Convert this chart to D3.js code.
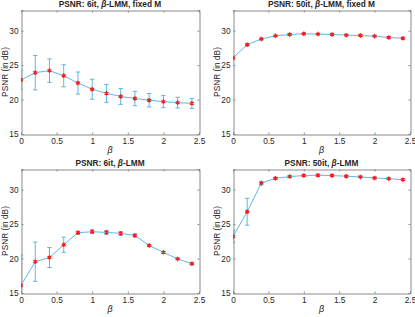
<!DOCTYPE html>
<html>
<head>
<meta charset="utf-8">
<title>PSNR vs beta</title>
<script src="https://cdn.jsdelivr.net/npm/d3@7"></script>
<style>
  body { margin: 0; background: #fff; }
  svg text { font-family: "Liberation Sans", Arial, sans-serif; fill: #262626; }
</style>
</head>
<body>
<svg id="svg"></svg>
<script>
var width = 415, height = 317;

// beta values shared by all four plots
var beta = [0, 0.2, 0.4, 0.6, 0.8, 1.0, 1.2, 1.4, 1.6, 1.8, 2.0, 2.2, 2.4];

// PSNR mean and error (half height of bar) per plot
var mean6Fixed  = [22.85, 23.9, 24.2, 23.45, 22.4, 21.5, 20.9, 20.45, 20.15, 19.9, 19.7, 19.55, 19.45];
var err6Fixed   = [1.35, 2.5, 1.7, 1.6, 1.6, 1.45, 1.3, 1.15, 1.05, 0.98, 0.88, 0.78, 0.72];
var mean50Fixed = [26.05, 27.95, 28.8, 29.25, 29.45, 29.55, 29.5, 29.45, 29.35, 29.3, 29.2, 29.0, 28.9];
var err50Fixed  = [0.1, 0.12, 0.12, 0.1, 0.1, 0.1, 0.1, 0.1, 0.1, 0.1, 0.1, 0.1, 0.1];
var mean6       = [16.1, 19.55, 20.15, 22.0, 23.75, 23.9, 23.8, 23.65, 23.35, 21.9, 20.9, 19.95, 19.25];
var err6        = [4.4, 2.85, 1.45, 1.1, 0.22, 0.28, 0.28, 0.28, 0.22, 0.1, 0.1, 0.1, 0.1];
var mean50      = [23.2, 26.8, 30.95, 31.65, 31.9, 32.05, 32.1, 32.05, 31.95, 31.85, 31.7, 31.6, 31.45];
var err50       = [0.9, 1.95, 0.25, 0.1, 0.1, 0.1, 0.1, 0.1, 0.1, 0.1, 0.1, 0.1, 0.1];

var xTicks = [0, 0.5, 1, 1.5, 2, 2.5];
var yTicks = [15, 20, 25, 30];

var panels = [
  {it: "6it",  fixed: true,  mean: mean6Fixed,  err: err6Fixed,  box: [21, 199, 10, 134]},
  {it: "50it", fixed: true,  mean: mean50Fixed, err: err50Fixed, box: [233, 410, 10, 134]},
  {it: "6it",  fixed: false, mean: mean6,       err: err6,       box: [21, 199, 169, 293]},
  {it: "50it", fixed: false, mean: mean50,      err: err50,      box: [233, 410, 169, 293]}
];

var lineColor = "#4DAEE6", axisColor = "#8a8a8a";

var svg = d3.select("#svg").attr("width", width).attr("height", height);

panels.forEach(function(p, k) {
  var x0 = p.box[0], x1 = p.box[1], y0 = p.box[2], y1 = p.box[3];
  var sx = d3.scaleLinear().domain([0, 2.5]).range([x0, x1]);
  var sy = d3.scaleLinear().domain([15, 33]).range([y1, y0]);

  var g = svg.append("g");

  // clip for data
  var cid = "clip" + k;
  svg.append("clipPath").attr("id", cid).append("rect")
    .attr("x", x0).attr("y", y0).attr("width", x1 - x0).attr("height", y1 - y0);

  // axes with inward ticks, mirrored (box on)
  var ax = g.append("g").attr("transform", "translate(0," + (y1 + 0.5) + ")")
    .call(d3.axisBottom(sx).tickValues(xTicks).tickSize(-2).tickPadding(4)
      .tickFormat(function(d) { return d3.format("")(d); }));
  var axTop = g.append("g").attr("transform", "translate(0," + (y0 + 0.5) + ")")
    .call(d3.axisTop(sx).tickValues(xTicks).tickSize(-2).tickFormat(""));
  var ay = g.append("g").attr("transform", "translate(" + (x0 + 0.5) + ",0)")
    .call(d3.axisLeft(sy).tickValues(yTicks).tickSize(-2).tickPadding(3));
  var ayR = g.append("g").attr("transform", "translate(" + (x1 + 0.5) + ",0)")
    .call(d3.axisRight(sy).tickValues(yTicks).tickSize(-2).tickFormat(""));
  [ax, axTop, ay, ayR].forEach(function(a) {
    a.select(".domain").attr("stroke", axisColor);
    a.selectAll(".tick line").attr("stroke", axisColor);
    a.selectAll(".tick text").attr("font-size", 8.3).style("fill", "#262626")
      .attr("font-family", "Liberation Sans, Arial, sans-serif");
  });

  // data
  var d = g.append("g").attr("clip-path", "url(#" + cid + ")");
  var pts = beta.map(function(b, i) { return {b: b, m: p.mean[i], e: p.err[i]}; });

  d.append("path").datum(pts)
    .attr("fill", "none").attr("stroke", lineColor).attr("stroke-width", 0.9)
    .attr("d", d3.line().x(function(q) { return sx(q.b); }).y(function(q) { return sy(q.m); }));

  d.selectAll(".eb").data(pts).enter().append("path")
    .attr("fill", "none").attr("stroke", lineColor).attr("stroke-width", 0.9)
    .attr("d", function(q) {
      var cx = sx(q.b), ya = sy(q.m + q.e), yb = sy(q.m - q.e), w = 2.2;
      return "M" + cx + "," + ya + "V" + yb +
        "M" + (cx - w) + "," + ya + "H" + (cx + w) +
        "M" + (cx - w) + "," + yb + "H" + (cx + w);
    });

  d.selectAll(".mk").data(pts).enter().append("path")
    .attr("transform", function(q) { return "translate(" + sx(q.b) + "," + sy(q.m) + ")"; })
    .attr("d", d3.symbol().type(d3.symbolAsterisk).size(14))
    .attr("fill", "none").attr("stroke", "#FF1A1A").attr("stroke-width", 1.3);

  // title
  var t = svg.append("text").attr("x", (x0 + x1) / 2).attr("y", y0 - 3)
    .attr("text-anchor", "middle").attr("font-size", 8.3).attr("font-weight", "bold");
  t.append("tspan").text("PSNR: " + p.it + ", ");
  t.append("tspan").attr("font-style", "italic").text("\u03B2");
  t.append("tspan").text(p.fixed ? "-LMM, fixed M" : "-LMM");

  // x label
  svg.append("text").attr("x", (x0 + x1) / 2).attr("y", y1 + 19)
    .attr("text-anchor", "middle").attr("font-size", 9).attr("font-style", "italic")
    .text("\u03B2");

  // y label
  svg.append("text")
    .attr("transform", "translate(" + (x0 - 13.5) + "," + ((y0 + y1) / 2) + ") rotate(-90)")
    .attr("text-anchor", "middle").attr("font-size", 8.3)
    .text("PSNR (in dB)");
});
</script>
</body>
</html>
